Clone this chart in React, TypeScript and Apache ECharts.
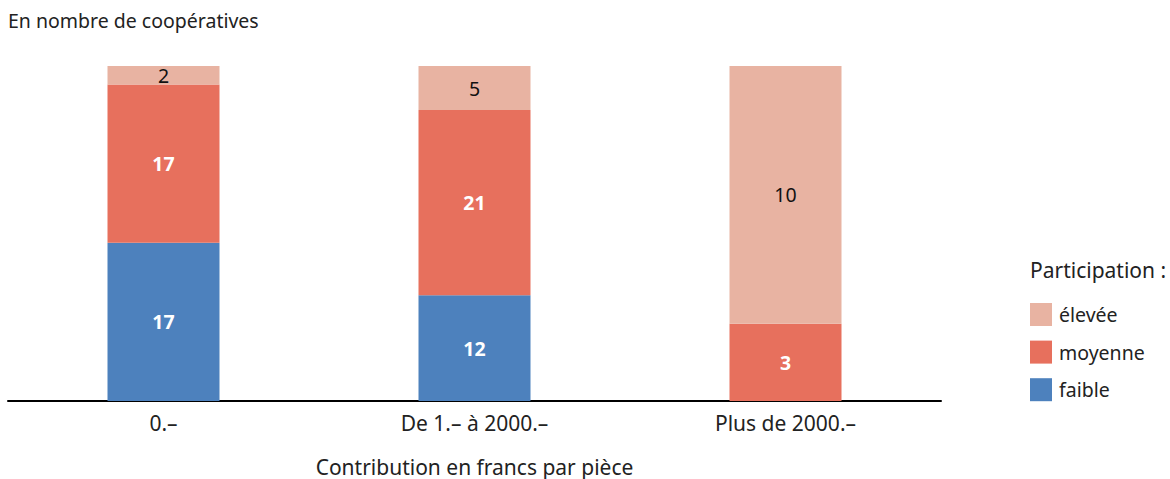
import React, { useEffect, useRef } from "react";
import * as echarts from "echarts";

const categories = ["0.–", "De 1.– à 2000.–", "Plus de 2000.–"];
const faible = [17, 12, 0];
const moyenne = [17, 21, 3];
const elevee = [2, 5, 10];
const seriesNames = ["faible", "moyenne", "élevée"];
const colors = ["#4D81BD", "#E7705D", "#E8B3A2"];
const title = "En nombre de coopératives";
const xTitle = "Contribution en francs par pièce";
const legendTitle = "Participation :";

const FONT = "Noto Sans";

export default function App() {
  const ref = useRef<HTMLDivElement>(null);
  useEffect(() => {
    document.body.style.margin = "0";
    if (!ref.current) return;
    const chart = echarts.init(ref.current, undefined, { renderer: "svg" });
    const raw = [faible, moyenne, elevee];
    const totals = categories.map((_, i) => faible[i] + moyenne[i] + elevee[i]);
    const series = raw.map((arr, si) => ({
      name: seriesNames[si],
      type: "bar",
      stack: "s",
      barWidth: 112,
      itemStyle: { color: colors[si] },
      data: arr.map((v, i) => (v / totals[i]) * 100),
      label: {
        show: true,
        position: "inside",
        fontFamily: FONT,
        fontSize: 19.5,
        fontWeight: si === 2 ? "normal" : "bold",
        color: si === 2 ? "#111" : "#fff",
        formatter: (p: any) => (arr[p.dataIndex] ? String(arr[p.dataIndex]) : ""),
      },
    }));
    chart.setOption({
      animation: false,
      textStyle: { fontFamily: FONT },
      grid: {
        left: 8,
        top: 66,
        width: 933,
        height: 335,
        containLabel: false,
        outerBoundsMode: "none",
      },
      xAxis: {
        type: "category",
        data: categories,
        axisLine: { lineStyle: { color: "#000", width: 2 } },
        axisTick: { show: false },
        axisLabel: { fontFamily: FONT, fontSize: 21, color: "#222", margin: 11 },
        name: xTitle,
        nameLocation: "middle",
        nameGap: 55,
        nameTextStyle: { fontFamily: FONT, fontSize: 21, color: "#222" },
      },
      yAxis: { type: "value", min: 0, max: 100, show: false },
      legend: {
        orient: "vertical",
        left: 1030,
        top: 303,
        itemWidth: 22,
        itemHeight: 23,
        itemGap: 14.6,
        icon: "rect",
        data: ["élevée", "moyenne", "faible"],
        textStyle: { fontFamily: FONT, fontSize: 19.5, color: "#222", padding: [0, 0, 0, 2] },
        selectedMode: false,
        padding: 0,
      },
      graphic: [
        {
          type: "text",
          left: 8,
          top: 10,
          style: { text: title, fontFamily: FONT, fontSize: 19.5, fill: "#222" },
        },
        {
          type: "text",
          left: 1030,
          top: 259,
          style: { text: legendTitle, fontFamily: FONT, fontSize: 21, fill: "#222" },
        },
      ],
      series,
    });
    return () => chart.dispose();
  }, []);
  return <div ref={ref} style={{ width: 1170, height: 479 }} />;
}
